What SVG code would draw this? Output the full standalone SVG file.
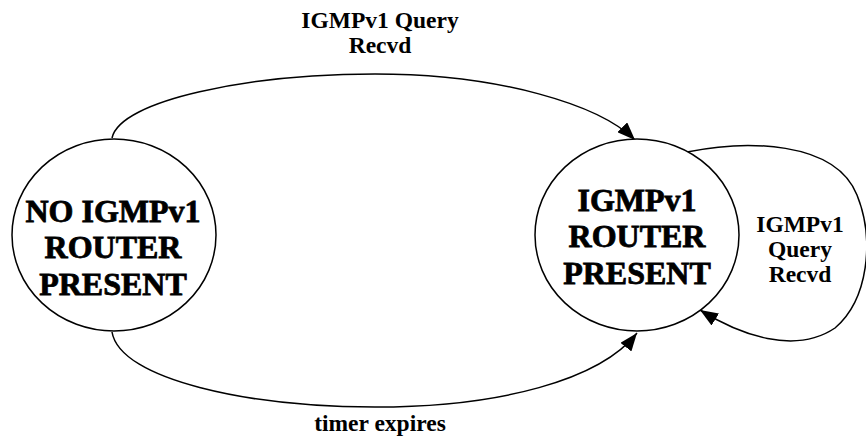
<svg xmlns="http://www.w3.org/2000/svg" width="866" height="440" viewBox="0 0 866 440">
  <style>
    .state { fill: #fff; stroke: #000; stroke-width: 1.5; }
    .state-label { font-family: "Liberation Serif", serif; font-weight: bold; font-size: 32px; text-anchor: middle; fill: #000; stroke: #000; stroke-width: 0.8; }
    .edge { fill: none; stroke: #000; stroke-width: 1.5; marker-end: url(#arrow); }
    .edge-label { font-family: "Liberation Serif", serif; font-weight: bold; font-size: 23.5px; text-anchor: middle; fill: #000; }
  </style>
  <defs>
    <marker id="arrow" markerWidth="19" markerHeight="14" refX="18" refY="7" orient="auto" markerUnits="userSpaceOnUse">
      <path d="M0,0 L18,7 L0,14 Z" fill="#000"/>
    </marker>
  </defs>

  <g id="connectors">
    <!-- no router -> router present -->
    <path id="edge-query" class="edge" d="M112,138 C120,100 250,74 375,74 C500,74 600,105 635,140"/>
    <!-- router present -> no router (timer) -->
    <path id="edge-timer" class="edge" d="M112,332 C120,380 250,407 375,407 C500,407 600,380 637,333"/>
    <!-- self loop on router present -->
    <path id="edge-loop" class="edge" d="M687,152 C745,140 835,140 857,195 C875,240 868,300 835,328 C795,355 740,335 700,310"/>
    <text class="edge-label" x="380" y="28">IGMPv1 Query</text>
    <text class="edge-label" x="380" y="53">Recvd</text>
    <text class="edge-label" x="380" y="431">timer expires</text>
    <text class="edge-label" x="800" y="232">IGMPv1</text>
    <text class="edge-label" x="800" y="257">Query</text>
    <text class="edge-label" x="800" y="282">Recvd</text>
  </g>

  <g id="node-no-router">
    <ellipse class="state" cx="114" cy="235" rx="102" ry="96"/>
    <text class="state-label" x="113" y="222">NO IGMPv1</text>
    <text class="state-label" x="113" y="258">ROUTER</text>
    <text class="state-label" x="113" y="295">PRESENT</text>
  </g>

  <g id="node-router">
    <ellipse class="state" cx="637" cy="235" rx="102" ry="96"/>
    <text class="state-label" x="637" y="211">IGMPv1</text>
    <text class="state-label" x="637" y="247">ROUTER</text>
    <text class="state-label" x="637" y="284">PRESENT</text>
  </g>
</svg>
